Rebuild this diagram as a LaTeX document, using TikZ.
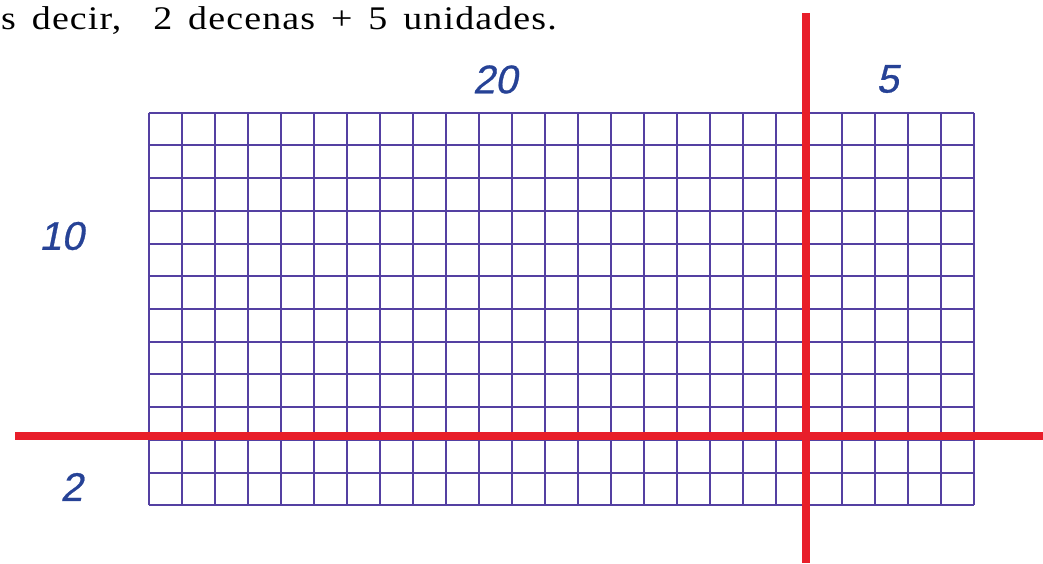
\documentclass[tikz,border=0pt]{standalone}
\usepackage{fontspec}
\setmainfont{Liberation Serif}
\newfontfamily\captionfont[LetterSpace=3,WordSpace=1.5]{Liberation Serif}
\newfontfamily\digitfont[FakeBold=0.7,FakeSlant=0.2]{Liberation Sans}
\usepackage{xcolor}
\definecolor{gridblue}{RGB}{84,64,162}
\definecolor{cutred}{RGB}{232,30,42}
\definecolor{numblue}{RGB}{38,66,150}

\begin{document}
\begin{tikzpicture}[x=1pt,y=1pt,line cap=butt,
  gridline/.style={gridblue,line width=2pt},
  cutline/.style={cutred,line width=8pt},
  amount/.style={text=numblue,inner sep=0pt,font=\digitfont\fontsize{40}{40}\selectfont}]
\useasboundingbox (0,0) rectangle (1043,563);
% caption line
\node[anchor=base west,inner sep=0pt,xscale=1.15,transform shape,font=\captionfont\fontsize{33}{33}\selectfont] (caption) at (1,533.5) {s decir,\ \ 2 decenas + 5 unidades.};
% grid of 25 x 12 squares
\begin{scope}[shift={(148.5,57.7)}]
\foreach \i in {0,...,25}
  \draw[gridline] (\i*33.03,0) -- (\i*33.03,392.6);
\foreach \j in {0,...,12}
  \draw[gridline] (0,\j*32.72) -- (825.8,\j*32.72);
\end{scope}
% red cuts
\coordinate (hcutL) at (15,127.5);
\coordinate (hcutR) at (1043,127.5);
\coordinate (vcutT) at (806,550);
\coordinate (vcutB) at (806,0);
\draw[cutline] (hcutL) -- (hcutR);
\draw[cutline] (vcutT) -- (vcutB);
% side numbers
\node[amount] (tens) at (495,483.5) {20};
\node[amount] (units) at (887.5,484) {5};
\node[amount] (ten) at (61.5,327) {10};
\node[amount] (two) at (71.5,76) {2};
\end{tikzpicture}
\end{document}
